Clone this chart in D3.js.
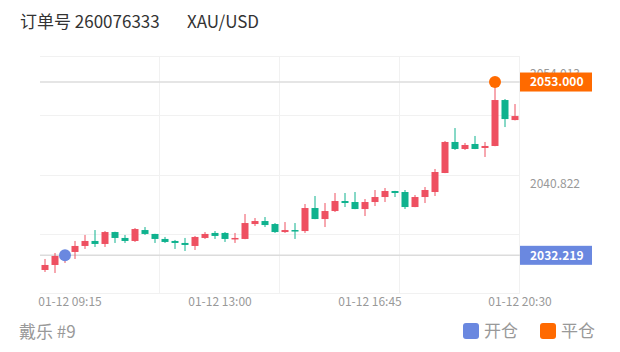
<!DOCTYPE html>
<html>
<head>
<meta charset="utf-8">
<script src="https://cdn.jsdelivr.net/npm/d3@7"></script>
<style>
  body { margin: 0; background: #fff; }
  svg { display: block; font-family: "Noto Sans CJK SC", "Noto Sans", sans-serif; }
</style>
</head>
<body>
<div id="chart"></div>
<script>
// 15-minute candles, 01-12
var times = ["08:30", "08:45", "09:00", "09:15", "09:30", "09:45", "10:00", "10:15",
    "10:30", "10:45", "11:00", "11:15", "11:30", "11:45", "12:00", "12:15",
    "12:30", "12:45", "13:00", "13:15", "13:30", "13:45", "14:00", "14:15",
    "14:30", "14:45", "15:00", "15:15", "15:30", "15:45", "16:00", "16:15",
    "16:30", "16:45", "17:00", "17:15", "17:30", "17:45", "18:00", "18:15",
    "18:30", "18:45", "19:00", "19:15", "19:30", "19:45", "20:00", "20:15"];

var opens = [2030.46, 2031.06, 2031.90, 2032.62, 2033.34, 2033.94, 2033.58, 2035.01,
    2034.30, 2033.94, 2035.25, 2034.78, 2034.18, 2033.94, 2033.70, 2033.34,
    2034.30, 2034.90, 2034.90, 2034.18, 2034.18, 2035.97, 2036.33, 2035.97,
    2035.01, 2035.25, 2035.13, 2037.89, 2036.57, 2037.53, 2038.73, 2038.61,
    2037.77, 2038.61, 2039.21, 2039.93, 2039.81, 2038.01, 2039.21, 2039.81,
    2042.09, 2045.81, 2044.97, 2045.57, 2045.09, 2045.33, 2050.84, 2048.44];
var highs = [2031.78, 2032.50, 2032.74, 2033.94, 2034.66, 2035.25, 2035.13, 2035.05,
    2034.66, 2035.49, 2035.61, 2034.80, 2034.42, 2034.06, 2034.30, 2034.54,
    2035.01, 2035.13, 2035.01, 2034.90, 2037.17, 2036.69, 2036.81, 2036.09,
    2036.21, 2036.09, 2038.37, 2039.33, 2038.49, 2039.69, 2039.69, 2039.81,
    2038.97, 2040.05, 2040.29, 2039.95, 2040.05, 2039.45, 2040.41, 2042.57,
    2045.93, 2047.48, 2045.69, 2046.53, 2045.81, 2053.00, 2050.96, 2050.36];
var lows = [2030.22, 2030.10, 2031.30, 2031.78, 2032.98, 2033.22, 2033.22, 2033.70,
    2033.70, 2033.82, 2034.66, 2033.70, 2033.70, 2032.98, 2032.74, 2032.86,
    2034.18, 2034.18, 2033.82, 2033.70, 2034.15, 2035.73, 2035.61, 2034.90,
    2034.90, 2034.18, 2034.90, 2036.55, 2035.61, 2037.41, 2038.01, 2037.75,
    2036.93, 2038.13, 2038.61, 2039.21, 2037.77, 2037.99, 2038.49, 2039.33,
    2042.07, 2044.85, 2044.85, 2044.95, 2044.01, 2045.30, 2047.60, 2048.40];
var closes = [2031.06, 2032.14, 2032.26, 2033.34, 2033.94, 2033.58, 2035.01, 2034.30,
    2033.94, 2035.37, 2034.78, 2034.18, 2033.82, 2033.70, 2033.46, 2034.42,
    2034.78, 2034.54, 2034.18, 2034.30, 2036.09, 2036.33, 2035.85, 2035.01,
    2035.25, 2035.13, 2037.89, 2036.57, 2037.53, 2038.73, 2038.49, 2037.77,
    2038.61, 2039.21, 2039.93, 2039.69, 2038.01, 2039.21, 2040.05, 2042.21,
    2045.81, 2044.97, 2045.45, 2044.97, 2045.33, 2050.84, 2048.56, 2048.92];

var yTicks = [2054.013, 2040.822];
var xTicks = ["09:15", "13:00", "16:45", "20:30"];
var gridTimes = ["11:30", "14:30", "17:30", "20:30"];

var openTrade = { time: "09:00", price: 2032.219 };
var closeTrade = { time: "19:45", price: 2053.000 };

function init() {
    const w = 620;
    const h = 352;
    const left = 40, right = 520, top = 56, bottom = 293;

    var parse = d3.timeParse("%Y-%m-%d %H:%M");
    var day = "2024-01-12 ";
    var step = 15 * 60 * 1000;

    var data = times.map(function (t, i) {
        return { t: parse(day + t), o: opens[i], h: highs[i], l: lows[i], c: closes[i] };
    });

    var x = d3.scaleTime()
        .domain([parse(day + "08:30"), parse(day + "20:30")])
        .range([left, right]);
    var mid = function (t) { return Math.round(x(new Date(t.getTime() + step / 2))); };

    var y = d3.scaleLinear()
        .domain([2027.70, 2056.12])
        .range([bottom, top]);

    var up = "#ee5061", down = "#0fb28e";
    var openColor = "#6a88e0", closeColor = "#ff6a00";

    var svg = d3.select("#chart")
        .append("svg")
        .attr("width", w)
        .attr("height", h);

    // header
    svg.append("text").attr("x", 20).attr("y", 28)
        .attr("font-size", 17).attr("fill", "#333")
        .text("订单号 260076333");
    svg.append("text").attr("x", 187).attr("y", 28)
        .attr("font-size", 17).attr("fill", "#333")
        .text("XAU/USD");

    // grid
    var grid = svg.append("g").attr("stroke", "#f1f1f1").attr("stroke-width", 1);
    grid.selectAll("line.h")
        .data(d3.range(5).map(function (i) { return top + (bottom - top) * i / 4; }))
        .enter().append("line")
        .attr("x1", left).attr("x2", right)
        .attr("y1", function (d) { return Math.round(d) + 0.5; })
        .attr("y2", function (d) { return Math.round(d) + 0.5; });
    grid.selectAll("line.v")
        .data(gridTimes)
        .enter().append("line")
        .attr("x1", function (d) { return Math.round(x(parse(day + d))) - 0.5; })
        .attr("x2", function (d) { return Math.round(x(parse(day + d))) - 0.5; })
        .attr("y1", top).attr("y2", bottom);

    // trade reference lines
    [openTrade, closeTrade].forEach(function (d) {
        svg.append("line")
            .attr("x1", left).attr("x2", right)
            .attr("y1", y(d.price)).attr("y2", y(d.price))
            .attr("stroke", "#dcdcdc").attr("stroke-width", 1.6);
    });

    // candles
    var candles = svg.selectAll("g.candle")
        .data(data)
        .enter()
        .append("g")
        .attr("class", "candle");

    candles.append("line")
        .attr("x1", function (d) { return mid(d.t); })
        .attr("x2", function (d) { return mid(d.t); })
        .attr("y1", function (d) { return y(d.h); })
        .attr("y2", function (d) { return y(d.l); })
        .attr("stroke", function (d) { return d.c >= d.o ? up : down; })
        .attr("stroke-width", 1);

    candles.append("rect")
        .attr("x", function (d) { return mid(d.t) - 3.5; })
        .attr("width", 7)
        .attr("y", function (d) { return y(Math.max(d.o, d.c)); })
        .attr("height", function (d) { return Math.max(1.5, Math.abs(y(d.o) - y(d.c))); })
        .attr("fill", function (d) { return d.c >= d.o ? up : down; });

    // y labels
    svg.selectAll("text.ylab")
        .data(yTicks)
        .enter().append("text")
        .attr("x", 530)
        .attr("y", function (d) { return y(d); })
        .attr("dy", "0.35em")
        .attr("font-size", 12)
        .attr("fill", "#999")
        .text(function (d) { return d.toFixed(3); });

    // price tags
    [[openTrade, openColor], [closeTrade, closeColor]].forEach(function (p) {
        var yy = y(p[0].price);
        svg.append("rect")
            .attr("x", right).attr("y", yy - 9.5)
            .attr("width", 72).attr("height", 19)
            .attr("fill", p[1]);
        svg.append("text")
            .attr("x", right + 10).attr("y", yy)
            .attr("dy", "0.36em")
            .attr("font-size", 12).attr("font-weight", 600)
            .attr("fill", "#fff")
            .text(p[0].price.toFixed(3));
    });

    // trade markers
    [[openTrade, openColor], [closeTrade, closeColor]].forEach(function (p) {
        svg.append("circle")
            .attr("cx", mid(parse(day + p[0].time)))
            .attr("cy", y(p[0].price))
            .attr("r", 6)
            .attr("fill", p[1]);
    });

    // x labels
    svg.selectAll("text.xlab")
        .data(xTicks)
        .enter().append("text")
        .attr("x", function (d) { return x(parse(day + d)); })
        .attr("y", 302)
        .attr("dy", "0.35em")
        .attr("text-anchor", "middle")
        .attr("font-size", 12)
        .attr("fill", "#999")
        .text(function (d) { return "01-12 " + d; });

    // footer
    svg.append("text").attr("x", 19).attr("y", 332).attr("dy", "0.36em")
        .attr("font-size", 17).attr("fill", "#999")
        .text("戴乐 #9");

    var legend = [["开仓", openColor, 463], ["平仓", closeColor, 540]];
    legend.forEach(function (l) {
        svg.append("rect")
            .attr("x", l[2]).attr("y", 323)
            .attr("width", 16).attr("height", 16).attr("rx", 3)
            .attr("fill", l[1]);
        svg.append("text")
            .attr("x", l[2] + 21).attr("y", 331).attr("dy", "0.36em")
            .attr("font-size", 17).attr("fill", "#999")
            .text(l[0]);
    });
}
window.onload = init;
</script>
</body>
</html>
